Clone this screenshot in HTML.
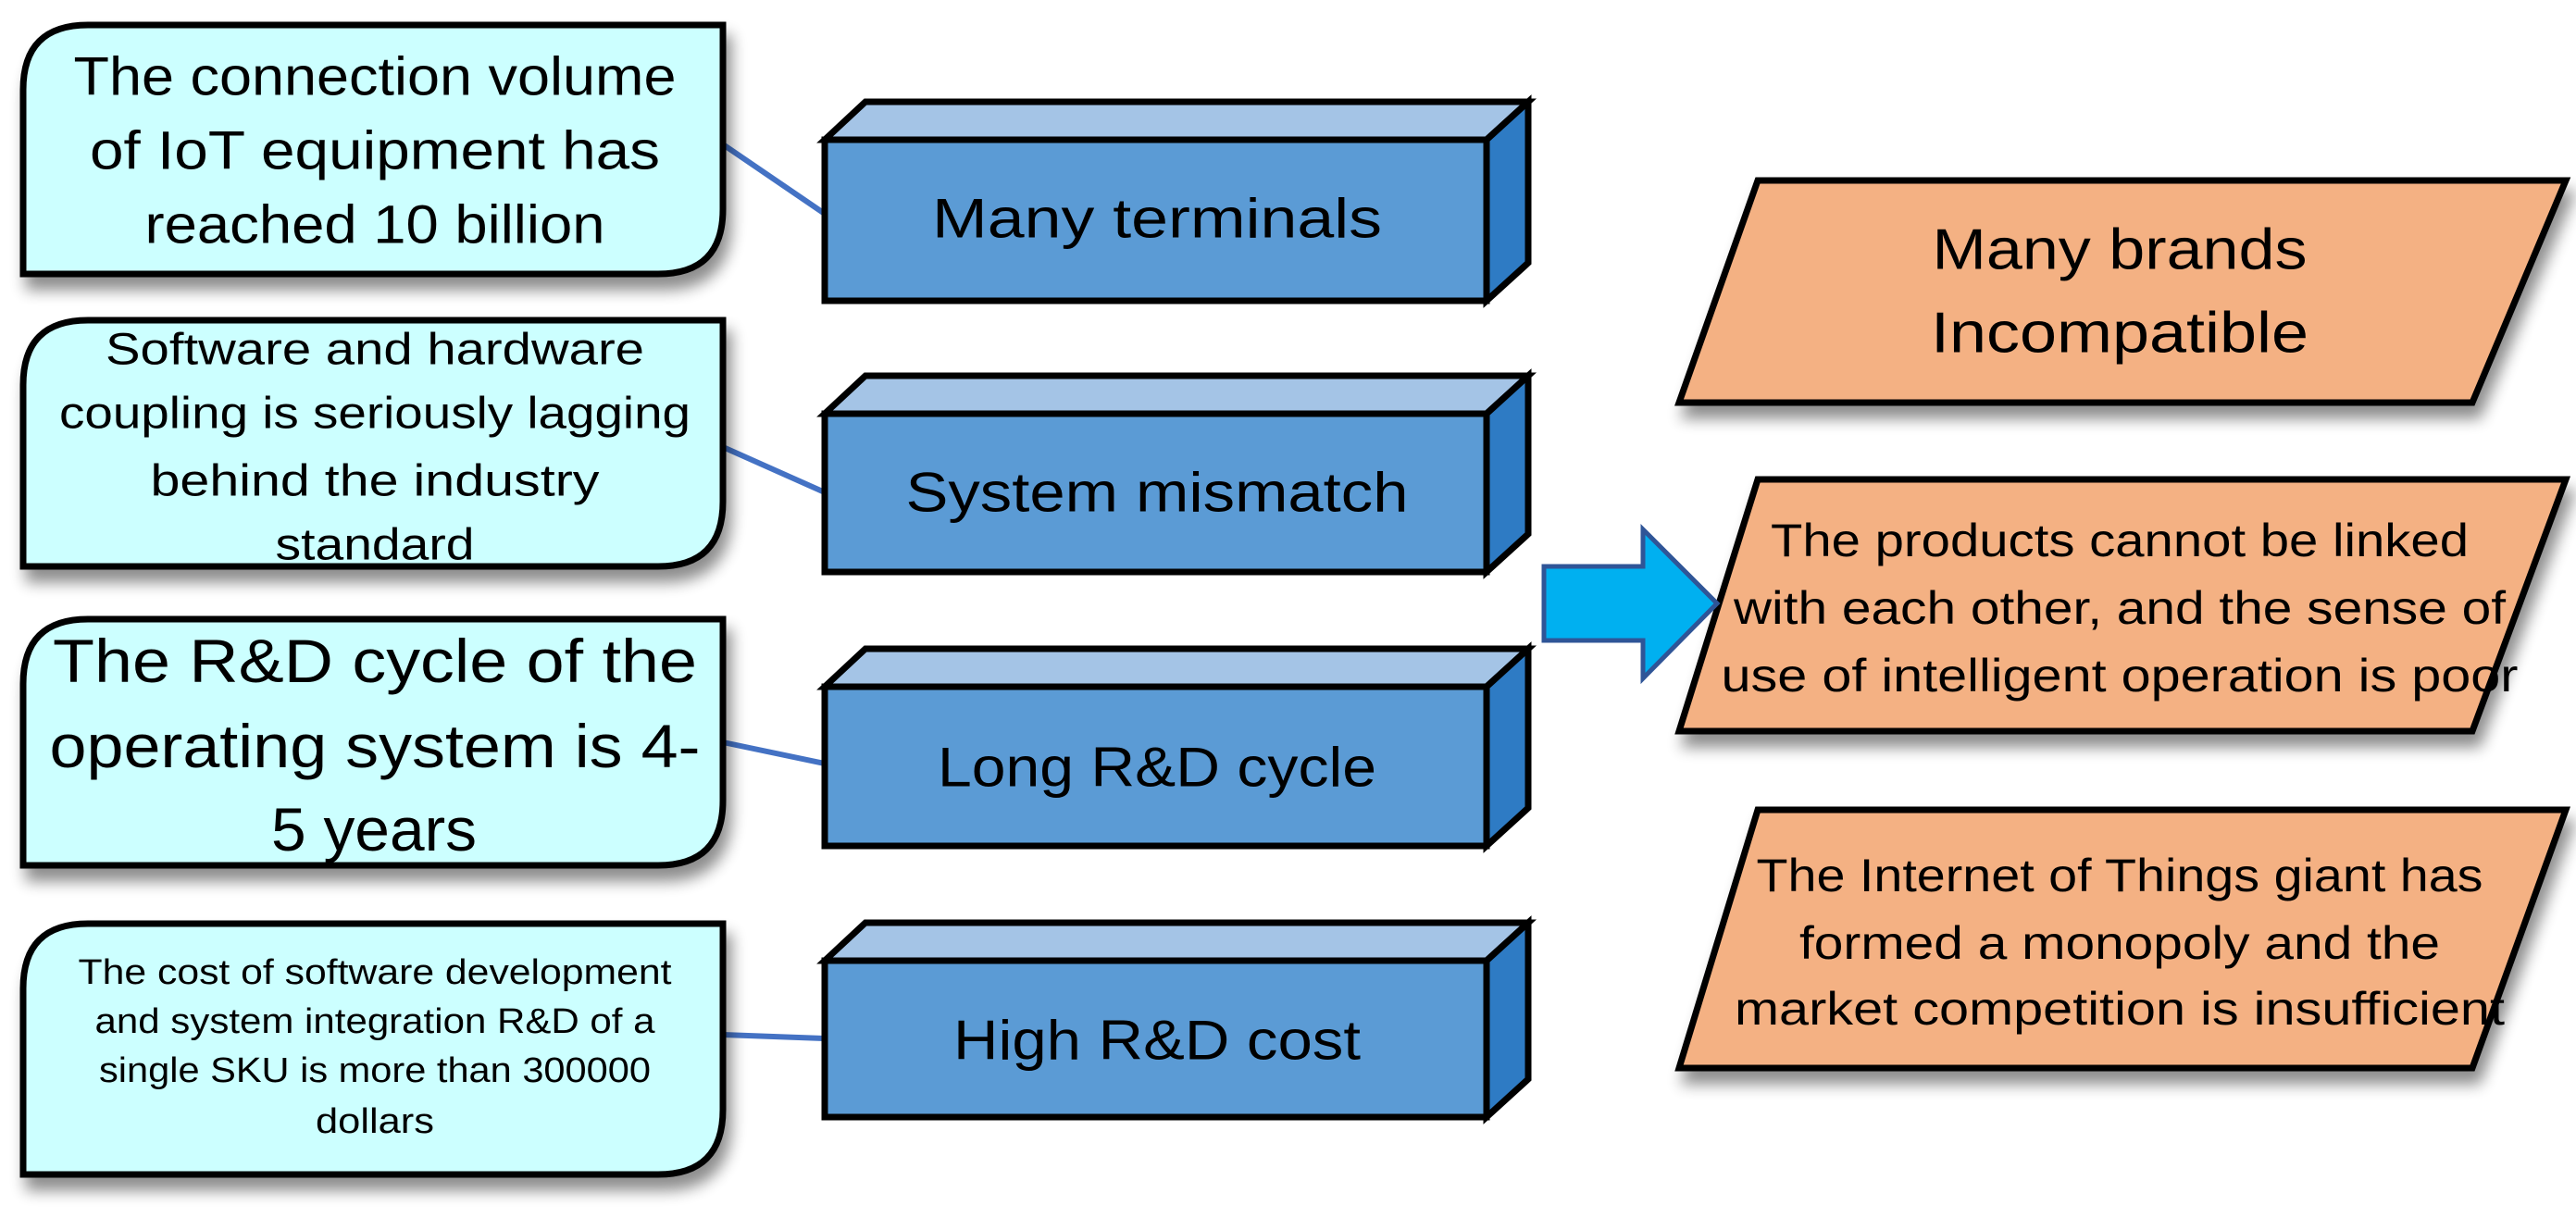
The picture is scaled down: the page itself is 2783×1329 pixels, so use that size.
<!DOCTYPE html>
<html><head><meta charset="utf-8"><style>
html,body{margin:0;padding:0;background:#fff}
svg{display:block}
text{font-family:"Liberation Sans",sans-serif;fill:#000;text-anchor:middle;dominant-baseline:central}
</style></head><body>
<svg width="2783" height="1329" viewBox="0 0 2783 1329" xmlns="http://www.w3.org/2000/svg">
<defs>
<filter id="sh" x="-10%" y="-10%" width="130%" height="140%"><feGaussianBlur in="SourceAlpha" stdDeviation="8"/><feOffset dx="6" dy="14"/><feComponentTransfer><feFuncA type="linear" slope="0.45"/></feComponentTransfer><feMerge><feMergeNode/><feMergeNode in="SourceGraphic"/></feMerge></filter>
</defs>
<g stroke="#4472c4" stroke-width="6">
<line x1="781" y1="156" x2="891" y2="231"/>
<line x1="781" y1="483" x2="891" y2="532"/>
<line x1="781" y1="802" x2="891" y2="825"/>
<line x1="781" y1="1118" x2="891" y2="1122"/>
</g>
<g fill="#ccffff" stroke="#000" stroke-width="7" filter="url(#sh)">
<path d="M95,27 H781 V226 Q781,296 711,296 H25 V97 Q25,27 95,27 Z"/>
<path d="M95,346 H781 V542 Q781,612 711,612 H25 V416 Q25,346 95,346 Z"/>
<path d="M95,669 H781 V865 Q781,935 711,935 H25 V739 Q25,669 95,669 Z"/>
<path d="M95,998 H781 V1199 Q781,1269 711,1269 H25 V1068 Q25,998 95,998 Z"/>
</g>
<g stroke="#000" stroke-width="7" stroke-linejoin="miter">
<g><polygon points="891,151 935,110 1651,110 1606,151" fill="#a4c4e6"/><polygon points="1606,151 1651,110 1651,284 1606,325" fill="#2e7bc4"/><rect x="891" y="151" width="715" height="174" fill="#5b9bd5"/></g>
<g><polygon points="891,447 935,406 1651,406 1606,447" fill="#a4c4e6"/><polygon points="1606,447 1651,406 1651,577 1606,618" fill="#2e7bc4"/><rect x="891" y="447" width="715" height="171" fill="#5b9bd5"/></g>
<g><polygon points="891,742 935,701 1651,701 1606,742" fill="#a4c4e6"/><polygon points="1606,742 1651,701 1651,873 1606,914" fill="#2e7bc4"/><rect x="891" y="742" width="715" height="172" fill="#5b9bd5"/></g>
<g><polygon points="891,1038 935,997 1651,997 1606,1038" fill="#a4c4e6"/><polygon points="1606,1038 1651,997 1651,1166 1606,1207" fill="#2e7bc4"/><rect x="891" y="1038" width="715" height="169" fill="#5b9bd5"/></g>
</g>
<g fill="#f4b183" stroke="#000" stroke-width="7" filter="url(#sh)">
<polygon points="1899,195 2772,195 2671,435 1814,435"/>
<polygon points="1899,518 2772,518 2671,790 1814,790"/>
<polygon points="1899,875 2772,875 2671,1154 1814,1154"/>
</g>
<polygon points="1668,612 1775,612 1775,572 1855,652 1775,733 1775,692 1668,692" fill="#00b0f0" stroke="#2f5597" stroke-width="5"/>
<g font-size="58">
<text x="405" y="83" textLength="651" lengthAdjust="spacingAndGlyphs">The connection volume</text>
<text x="405" y="163" textLength="616" lengthAdjust="spacingAndGlyphs">of IoT equipment has</text>
<text x="405" y="243" textLength="497" lengthAdjust="spacingAndGlyphs">reached 10 billion</text>
</g>
<g font-size="48">
<text x="405" y="378" textLength="582" lengthAdjust="spacingAndGlyphs">Software and hardware</text>
<text x="405" y="447" textLength="682" lengthAdjust="spacingAndGlyphs">coupling is seriously lagging</text>
<text x="405" y="520" textLength="485" lengthAdjust="spacingAndGlyphs">behind the industry</text>
<text x="405" y="589" textLength="215" lengthAdjust="spacingAndGlyphs">standard</text>
</g>
<g font-size="66">
<text x="405" y="714" textLength="696" lengthAdjust="spacingAndGlyphs">The R&amp;D cycle of the</text>
<text x="405" y="806" textLength="703" lengthAdjust="spacingAndGlyphs">operating system is 4-</text>
<text x="404" y="896" textLength="222" lengthAdjust="spacingAndGlyphs">5 years</text>
</g>
<g font-size="38">
<text x="405" y="1051" textLength="641" lengthAdjust="spacingAndGlyphs">The cost of software development</text>
<text x="405" y="1104" textLength="605" lengthAdjust="spacingAndGlyphs">and system integration R&amp;D of a</text>
<text x="405" y="1157" textLength="596" lengthAdjust="spacingAndGlyphs">single SKU is more than 300000</text>
<text x="405" y="1212" textLength="128" lengthAdjust="spacingAndGlyphs">dollars</text>
</g>
<g font-size="60">
<text x="1250" y="236" textLength="486" lengthAdjust="spacingAndGlyphs">Many terminals</text>
<text x="1250" y="532" textLength="543" lengthAdjust="spacingAndGlyphs">System mismatch</text>
<text x="1250" y="829" textLength="474" lengthAdjust="spacingAndGlyphs">Long R&amp;D cycle</text>
<text x="1250" y="1124" textLength="440" lengthAdjust="spacingAndGlyphs">High R&amp;D cost</text>
</g>
<g font-size="62">
<text x="2290" y="270" textLength="405" lengthAdjust="spacingAndGlyphs">Many brands</text>
<text x="2290" y="360" textLength="408" lengthAdjust="spacingAndGlyphs">Incompatible</text>
</g>
<g font-size="50">
<text x="2290" y="584" textLength="754" lengthAdjust="spacingAndGlyphs">The products cannot be linked</text>
<text x="2290" y="657" textLength="834" lengthAdjust="spacingAndGlyphs">with each other, and the sense of</text>
<text x="2290" y="730" textLength="861" lengthAdjust="spacingAndGlyphs">use of intelligent operation is poor</text>
<text x="2290" y="946" textLength="785" lengthAdjust="spacingAndGlyphs">The Internet of Things giant has</text>
<text x="2290" y="1019" textLength="692" lengthAdjust="spacingAndGlyphs">formed a monopoly and the</text>
<text x="2290" y="1090" textLength="832" lengthAdjust="spacingAndGlyphs">market competition is insufficient</text>
</g>
</svg>
</body></html>
